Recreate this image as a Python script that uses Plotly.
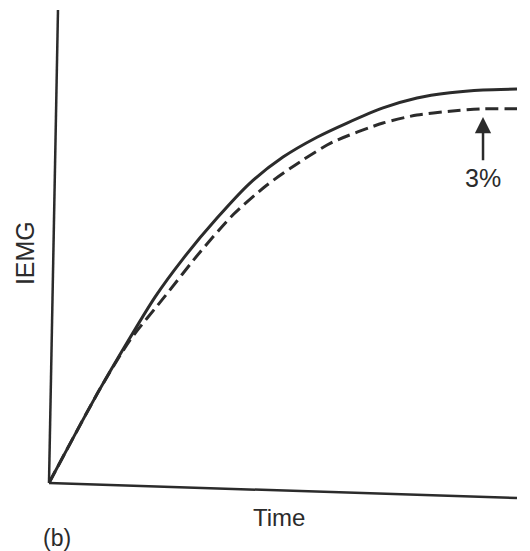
import plotly.graph_objects as go

# Data (arbitrary units)
time_solid = [0, 1.090, 2.265, 2.863, 3.590, 4.295, 5.000, 5.726, 6.368, 7.137, 7.863, 8.568, 9.274, 10]
iemg_solid = [0, 1.99, 3.93, 4.74, 5.60, 6.34, 6.89, 7.31, 7.61, 7.93, 8.14, 8.25, 8.31, 8.33]

time_dashed = [0, 1.090, 1.731, 2.479, 3.226, 3.932, 4.658, 5.363, 6.068, 7.137, 7.863, 8.568, 9.274, 10]
iemg_dashed = [0, 1.99, 3.02, 3.95, 4.88, 5.67, 6.30, 6.79, 7.21, 7.61, 7.78, 7.86, 7.91, 7.91]

arrow_time = 9.274
arrow_tip = 7.74
arrow_tail = 6.79
label_3pct = "3%"
label_y = 6.45

ink = "#2b2b2b"
font_family = "Liberation Sans, Arial"

fig = go.Figure()
fig.add_trace(go.Scatter(x=time_solid, y=iemg_solid, mode="lines",
                         line=dict(color=ink, width=3, shape="spline", smoothing=0.7),
                         hoverinfo="skip", showlegend=False))
fig.add_trace(go.Scatter(x=time_dashed, y=iemg_dashed, mode="lines",
                         line=dict(color=ink, width=3, shape="spline", smoothing=0.7,
                                   dash="13px,6px"),
                         hoverinfo="skip", showlegend=False))

fig.add_annotation(x=arrow_time, y=arrow_tip, ax=arrow_time, ay=arrow_tail,
                   xref="x", yref="y", axref="x", ayref="y",
                   showarrow=True, arrowhead=2, arrowsize=1.3, arrowwidth=2.5,
                   arrowcolor=ink, text="")
fig.add_annotation(x=arrow_time, y=label_y, xref="x", yref="y", text=label_3pct,
                   showarrow=False, font=dict(size=25, color=ink, family=font_family),
                   xanchor="center", yanchor="middle")

fig.add_annotation(x=0, y=0.486, xref="paper", yref="paper", text="IEMG",
                   textangle=-90, showarrow=False, xanchor="center", yanchor="middle",
                   xshift=-24, font=dict(size=25, color=ink, family=font_family))
fig.add_annotation(x=0.491, y=0, xref="paper", yref="paper", text="Time",
                   showarrow=False, xanchor="center", yanchor="middle", yshift=-34,
                   font=dict(size=24, color=ink, family=font_family))
fig.add_annotation(x=0.017, y=0, xref="paper", yref="paper", text="(b)",
                   showarrow=False, xanchor="center", yanchor="middle", yshift=-55,
                   font=dict(size=23, color=ink, family=font_family))

# axis lines (the scanned original is slightly rotated)
fig.add_shape(type="line", xref="paper", yref="paper", x0=0, y0=0, x1=1, y1=-0.0317,
              line=dict(color=ink, width=2.5))
fig.add_shape(type="line", xref="paper", yref="paper", x0=0, y0=0, x1=0.0192, y1=1,
              line=dict(color=ink, width=2.5))

axis_common = dict(showline=False, showgrid=False, zeroline=False,
                   showticklabels=False, ticks="", range=[0, 10], fixedrange=True)
fig.update_xaxes(**axis_common)
fig.update_yaxes(**axis_common)

fig.update_layout(width=530, height=551, margin=dict(l=49, r=13, t=10, b=68),
                  plot_bgcolor="white", paper_bgcolor="white")

fig.write_html("out.html")
